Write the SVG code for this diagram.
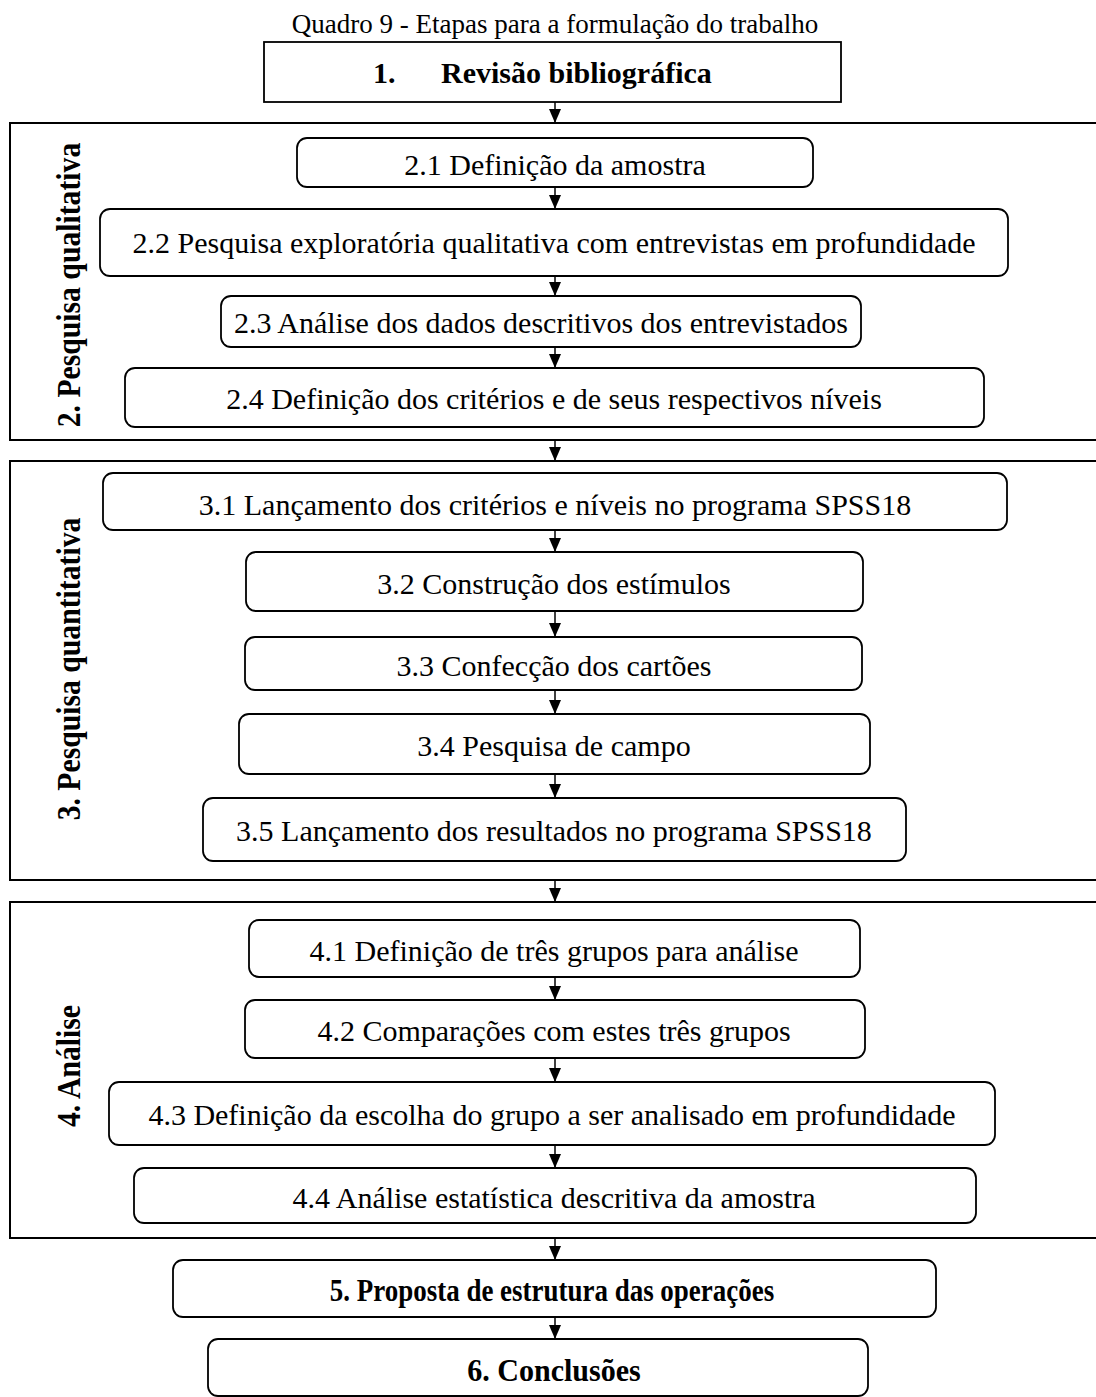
<svg xmlns="http://www.w3.org/2000/svg" width="1096" height="1397" viewBox="0 0 1096 1397">
<defs>
<style>
.frame{fill:none;stroke:#000;stroke-width:2}
.box{fill:#fff;stroke:#000;stroke-width:1.8}
.t{font-family:"Liberation Serif","Times New Roman",serif;font-size:30px;fill:#000;text-anchor:middle}
.b{font-family:"Liberation Serif","Times New Roman",serif;font-size:31px;font-weight:bold;fill:#000;text-anchor:middle}
.title{font-family:"Liberation Serif","Times New Roman",serif;font-size:27px;fill:#000;text-anchor:middle}
.c{stroke:#000;stroke-width:1.5;fill:none}
</style>
<marker id="ah" markerUnits="userSpaceOnUse" markerWidth="14" markerHeight="14" viewBox="0 0 14 14" refX="14" refY="7" orient="auto">
<path d="M0,1 L14,7 L0,13 Z" fill="#000"/>
</marker>
</defs>
<rect width="1096" height="1397" fill="#fff"/>
<text class="title" x="555" y="33">Quadro 9 - Etapas para a formulação do trabalho</text>

<g id="sec2"><rect class="frame" x="10" y="123" width="1100" height="317"/>
<text class="b" transform="translate(80,285) rotate(-90) scale(0.9,1)" x="0" y="0" style="font-size:33px">2. Pesquisa qualitativa</text></g>
<g id="sec3"><rect class="frame" x="10" y="461" width="1100" height="419"/>
<text class="b" transform="translate(80,669) rotate(-90) scale(0.9,1)" x="0" y="0" style="font-size:33px">3. Pesquisa quantitativa</text></g>
<g id="sec4"><rect class="frame" x="10" y="902" width="1100" height="336"/>
<text class="b" transform="translate(80,1066) rotate(-90) scale(0.9,1)" x="0" y="0" style="font-size:33px">4. Análise</text></g>

<g id="connectors">
<line class="c" x1="555" y1="102" x2="555" y2="123" marker-end="url(#ah)"/>
<line class="c" x1="555" y1="187" x2="555" y2="209" marker-end="url(#ah)"/>
<line class="c" x1="555" y1="276" x2="555" y2="296" marker-end="url(#ah)"/>
<line class="c" x1="555" y1="347" x2="555" y2="368" marker-end="url(#ah)"/>
<line class="c" x1="555" y1="440" x2="555" y2="461" marker-end="url(#ah)"/>
<line class="c" x1="555" y1="530" x2="555" y2="552" marker-end="url(#ah)"/>
<line class="c" x1="555" y1="611" x2="555" y2="637" marker-end="url(#ah)"/>
<line class="c" x1="555" y1="690" x2="555" y2="714" marker-end="url(#ah)"/>
<line class="c" x1="555" y1="774" x2="555" y2="798" marker-end="url(#ah)"/>
<line class="c" x1="555" y1="880" x2="555" y2="902" marker-end="url(#ah)"/>
<line class="c" x1="555" y1="977" x2="555" y2="1000" marker-end="url(#ah)"/>
<line class="c" x1="555" y1="1058" x2="555" y2="1082" marker-end="url(#ah)"/>
<line class="c" x1="555" y1="1145" x2="555" y2="1168" marker-end="url(#ah)"/>
<line class="c" x1="555" y1="1238" x2="555" y2="1260" marker-end="url(#ah)"/>
<line class="c" x1="555" y1="1317" x2="555" y2="1339" marker-end="url(#ah)"/>
</g>

<g id="n1"><rect class="box" x="264" y="42" width="577" height="60"/>
<text class="b" style="font-size:30px;text-anchor:start" y="83"><tspan x="373">1.</tspan><tspan x="441">Revisão bibliográfica</tspan></text></g>

<g id="n2_1"><rect class="box" x="297" y="138" width="516" height="49" rx="10"/><text class="t" x="555" y="175">2.1 Definição da amostra</text></g>
<g id="n2_2"><rect class="box" x="100" y="209" width="908" height="67" rx="10"/><text class="t" x="554" y="253">2.2 Pesquisa exploratória qualitativa com entrevistas em profundidade</text></g>
<g id="n2_3"><rect class="box" x="221" y="296" width="640" height="51" rx="10"/><text class="t" x="541" y="333">2.3 Análise dos dados descritivos dos entrevistados</text></g>
<g id="n2_4"><rect class="box" x="125" y="368" width="859" height="59" rx="10"/><text class="t" x="554" y="409">2.4 Definição dos critérios e de seus respectivos níveis</text></g>

<g id="n3_1"><rect class="box" x="103" y="473" width="904" height="57" rx="10"/><text class="t" x="555" y="515">3.1 Lançamento dos critérios e níveis no programa SPSS18</text></g>
<g id="n3_2"><rect class="box" x="246" y="552" width="617" height="59" rx="10"/><text class="t" x="554" y="594">3.2 Construção dos estímulos</text></g>
<g id="n3_3"><rect class="box" x="245" y="637" width="617" height="53" rx="10"/><text class="t" x="554" y="676">3.3 Confecção dos cartões</text></g>
<g id="n3_4"><rect class="box" x="239" y="714" width="631" height="60" rx="10"/><text class="t" x="554" y="756">3.4 Pesquisa de campo</text></g>
<g id="n3_5"><rect class="box" x="203" y="798" width="703" height="63" rx="10"/><text class="t" x="554" y="841">3.5 Lançamento dos resultados no programa SPSS18</text></g>

<g id="n4_1"><rect class="box" x="249" y="920" width="611" height="57" rx="10"/><text class="t" x="554" y="961">4.1 Definição de três grupos para análise</text></g>
<g id="n4_2"><rect class="box" x="245" y="1000" width="620" height="58" rx="10"/><text class="t" x="554" y="1041">4.2 Comparações com estes três grupos</text></g>
<g id="n4_3"><rect class="box" x="109" y="1082" width="886" height="63" rx="10"/><text class="t" x="552" y="1125">4.3 Definição da escolha do grupo a ser analisado em profundidade</text></g>
<g id="n4_4"><rect class="box" x="134" y="1168" width="842" height="55" rx="10"/><text class="t" x="554" y="1208">4.4 Análise estatística descritiva da amostra</text></g>

<g id="n5"><rect class="box" x="173" y="1260" width="763" height="57" rx="10"/><text class="b" transform="translate(552,1301) scale(0.87,1)" x="0" y="0">5. Proposta de estrutura das operações</text></g>
<g id="n6"><rect class="box" x="208" y="1339" width="660" height="57" rx="10"/><text class="b" transform="translate(554,1381) scale(0.97,1)" x="0" y="0">6. Conclusões</text></g>
</svg>
